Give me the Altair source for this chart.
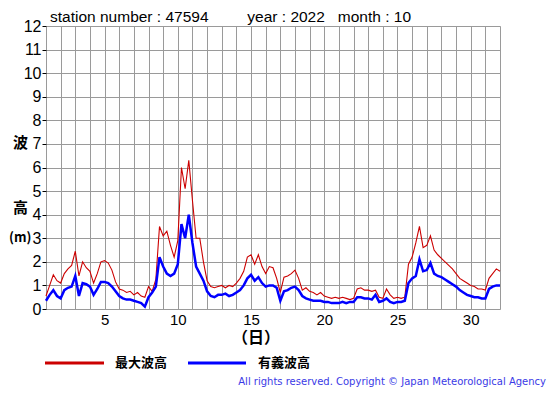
import altair as alt
import pandas as pd

# 6-hourly readings, day 1.00 .. 32.00
max_wave = [
    0.55, 1.0, 1.45, 1.2,
    1.1, 1.5, 1.7, 1.85,
    2.45, 1.4, 2.0, 1.75,
    1.6, 1.1, 1.5, 2.0,
    2.05, 1.95, 1.65, 1.15,
    0.85, 0.8, 0.7, 0.75,
    0.6, 0.7, 0.55, 0.5,
    0.95, 0.75, 1.25, 3.5,
    3.1, 3.3, 2.7, 2.2,
    2.9, 6.0, 5.1, 6.3,
    4.6, 3.0, 3.0, 2.0,
    1.2, 0.95, 0.9, 0.95,
    1.0, 0.9, 1.0, 0.95,
    1.1, 1.3, 1.6, 2.2,
    2.3, 1.9, 2.3, 1.8,
    1.5, 1.8, 1.75, 1.3,
    0.7, 1.35, 1.4, 1.5,
    1.65, 1.3, 0.8, 0.9,
    0.75, 0.7, 0.6, 0.7,
    0.55, 0.5, 0.45, 0.5,
    0.45, 0.5, 0.45, 0.4,
    0.45, 0.85, 0.9, 0.8,
    0.8, 0.75, 0.8, 0.5,
    0.45, 0.85, 0.6, 0.45,
    0.5, 0.45, 0.5, 1.9,
    2.2, 2.8, 3.5, 2.6,
    2.7, 3.1, 2.5, 2.3,
    2.15, 2.0, 1.85, 1.7,
    1.5, 1.3, 1.2, 1.1,
    1.0, 0.95, 0.85, 0.85,
    0.8, 1.3, 1.5, 1.7,
    1.6,
]
sig_wave = [
    0.35, 0.6, 0.8, 0.55,
    0.45, 0.8, 0.9, 0.95,
    1.4, 0.55, 1.1, 1.05,
    0.95, 0.6, 0.85, 1.15,
    1.15, 1.1, 0.95, 0.75,
    0.55, 0.45, 0.4, 0.4,
    0.35, 0.3, 0.25, 0.1,
    0.5, 0.7, 0.95, 2.2,
    1.8, 1.5, 1.4, 1.5,
    1.9, 3.6, 3.0, 4.0,
    2.8, 1.8, 1.5, 1.2,
    0.75, 0.55, 0.5, 0.6,
    0.6, 0.65, 0.55, 0.6,
    0.7, 0.8, 1.0, 1.3,
    1.45, 1.2, 1.35, 1.1,
    0.95, 1.0, 1.0, 0.9,
    0.35, 0.75, 0.8, 0.9,
    0.95, 0.8, 0.55, 0.45,
    0.4, 0.35, 0.35, 0.35,
    0.3, 0.3, 0.25, 0.25,
    0.25, 0.3, 0.25, 0.3,
    0.3, 0.5, 0.5, 0.45,
    0.45, 0.4, 0.6, 0.3,
    0.35, 0.45, 0.3, 0.25,
    0.3, 0.3, 0.35, 1.1,
    1.3, 1.4, 2.1, 1.6,
    1.65, 1.95, 1.5, 1.4,
    1.35, 1.25, 1.15, 1.05,
    0.95, 0.8, 0.7, 0.6,
    0.55, 0.5, 0.5, 0.45,
    0.45, 0.85, 0.95, 1.0,
    1.0,
]
days = [1 + i * 0.25 for i in range(len(max_wave))]
x_ticks = list(range(1, 33))
y_ticks = list(range(0, 13))

df = pd.DataFrame({"day": days, "max": max_wave, "sig": sig_wave})

FONT = "Liberation Sans"
JP = "Noto Sans CJK JP"

x_axis = alt.Axis(values=x_ticks, labelExpr="datum.value % 5 == 0 ? datum.label : ''",
                  grid=True, gridColor="#9a9a9a", gridWidth=1, ticks=False, domain=False,
                  labelFontSize=15, labelFont=FONT, labelColor="black", labelPadding=3,
                  labelOverlap=False, title=None)
y_axis = alt.Axis(values=y_ticks, grid=True, gridColor="#9a9a9a", gridWidth=1,
                  domain=False, tickSize=4, tickColor="black", labelFontSize=16,
                  labelFont=FONT, labelColor="black", labelPadding=1,
                  labelOverlap=False, labelBound=False, title=None)
x_scale = alt.Scale(domain=[1, 32], nice=False, zero=False)
y_scale = alt.Scale(domain=[0, 12], nice=False)

red = alt.Chart(df).mark_line(color="#cc0000", strokeWidth=1.1).encode(
    x=alt.X("day:Q", scale=x_scale, axis=x_axis),
    y=alt.Y("max:Q", scale=y_scale, axis=y_axis))
blue = alt.Chart(df).mark_line(color="#0000ff", strokeWidth=2.5).encode(
    x=alt.X("day:Q", scale=x_scale, axis=x_axis),
    y=alt.Y("sig:Q", scale=y_scale, axis=y_axis))

one = pd.DataFrame({"a": [0]})

def txt(s, px, py, size=15, font=FONT, color="black", align="left", weight="normal"):
    return alt.Chart(one).mark_text(text=s, fontSize=size, font=font, color=color, align=align,
                                    baseline="middle", fontWeight=weight).encode(
        x=alt.value(px), y=alt.value(py))

def rule(x1, x2, py, color, w):
    return alt.Chart(one).mark_rule(color=color, strokeWidth=w).encode(
        x=alt.value(x1), x2=alt.value(x2), y=alt.value(py))

NB = "\u00a0"
title = txt("station number : 47594" + NB * 9 + "year : 2022" + NB * 3 + "month : 10",
            4, -9, size=15.5)
ylab1 = txt("波", -33, 117, size=15, font=JP, align="left", weight="bold")
ylab2 = txt("高", -33, 182, size=15, font=JP, align="left", weight="bold")
ylab3 = txt("(m)", -37, 212, size=13, font=JP, align="left", weight="bold")
xlab = txt("（日）", 210, 312, size=16, font=JP, align="center", weight="bold")
leg_r = rule(-1, 58, 337, "#cc0000", 3)
leg_rt = txt("最大波高", 69, 337, size=13, font=JP, weight="bold")
leg_b = rule(142, 200, 337, "#0000ff", 3)
leg_bt = txt("有義波高", 212, 337, size=13, font=JP, weight="bold")
copy = txt("All rights reserved. Copyright © Japan Meteorological Agency", 500, 356,
           size=10, font="DejaVu Sans", color="#3a3ae6", align="right")

chart = alt.layer(red, blue, title, ylab1, ylab2, ylab3, xlab, leg_r, leg_rt, leg_b, leg_bt, copy
                  ).properties(
    width=454, height=283,
    padding={"left": 38, "top": 18, "right": 47, "bottom": 78},
    autosize=alt.AutoSizeParams(type="none"),
).configure_view(stroke="black", strokeWidth=1.5).configure(background="white")

chart.save("out.html", embed_options={"renderer": "svg", "actions": False})
